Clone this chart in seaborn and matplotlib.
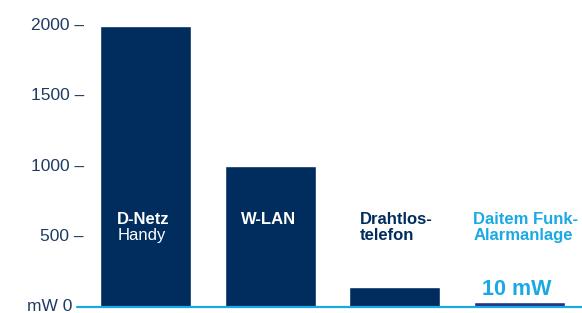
"""
plot.py
-------
Sendeleistung im Vergleich: Handy, W-LAN, Drahtlostelefon, Funk-Alarmanlage.
"""

import pandas as pd
import matplotlib.pyplot as plt
import seaborn as sns

# ========== Data ==========
devices = ["D-Netz Handy", "W-LAN", "Drahtlostelefon", "Daitem Funk-Alarmanlage"]
power_mw = [2000, 1000, 140, 35]
bar_colors = ["#002d5e", "#002d5e", "#002d5e", "#23358a"]
yticks = [0, 500, 1000, 1500, 2000]
ytick_labels = ["mW 0", "500 \u2013", "1000 \u2013", "1500 \u2013", "2000 \u2013"]

navy = "#002d5e"
light_blue = "#1aa9e4"
tick_color = "#1f3b63"

df = pd.DataFrame({"device": devices, "power": power_mw})

# ========== Plot ==========
sns.set_theme(style="white")
plt.rcParams["font.family"] = ["Liberation Sans", "DejaVu Sans"]

fig = plt.figure(figsize=(5.82, 3.13), dpi=100)
ax = fig.add_axes([77 / 582, 6.3 / 313, 1 - 77 / 582, 1 - 6.3 / 313])

sns.barplot(data=df, x="device", y="power", hue="device", palette=bar_colors,
            width=0.73, saturation=1, legend=False, ax=ax)

ax.set_xlim(-0.55, 3.5)
ax.set_ylim(0, 2183)
ax.set_xlabel("")
ax.set_ylabel("")
ax.set_xticks([])
ax.set_yticks([])
for s in ax.spines.values():
    s.set_visible(False)
ax.axhline(0, color=light_blue, lw=1.6, clip_on=False)

# y tick labels drawn as text (the dash is part of the label)
for val, lab in zip(yticks, ytick_labels):
    xoff = -5 / 582 if val == 0 else 8 / 582
    ax.text(xoff, val, lab, transform=ax.get_yaxis_transform(), ha="right",
            va="center", fontsize=12.5, color=tick_color, clip_on=False)

# labels inside / above the bars
fs = 12
line1, line2 = 672, 558
ax.text(-0.228, line1, "D-Netz", color="white", fontsize=fs, fontweight="bold", va="top")
ax.text(-0.228, line2, "Handy", color="white", fontsize=fs, va="top")
ax.text(0.769, line1, "W-LAN", color="white", fontsize=fs, fontweight="bold", va="top")
ax.text(1.715, line1, "Drahtlos-", color=navy, fontsize=fs, fontweight="bold", va="top")
ax.text(1.715, line2, "telefon", color=navy, fontsize=fs, fontweight="bold", va="top")
ax.text(2.627, line1, "Daitem Funk-", color=light_blue, fontsize=fs, fontweight="bold", va="top")
ax.text(2.627, line2, "Alarmanlage", color=light_blue, fontsize=fs, fontweight="bold", va="top")
ax.text(2.70, 83, "10 mW", color=light_blue, fontsize=15.5, fontweight="bold", va="baseline")

fig.savefig("out.png", dpi=100)
